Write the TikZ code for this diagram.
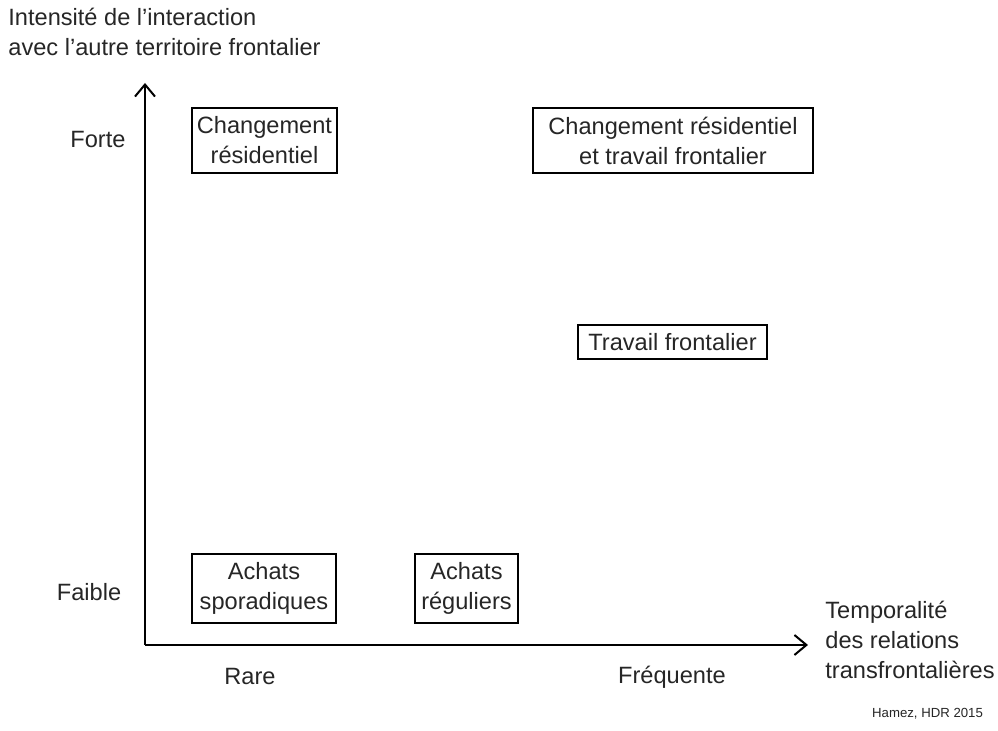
\documentclass[tikz,border=0pt]{standalone}
\usepackage{fontspec}
\setmainfont{Liberation Sans}
\usepackage{tikz}
\usetikzlibrary{arrows.meta}

\begin{document}
\begin{tikzpicture}[x=0.5pt, y=-0.5pt,
		every node/.style={font=\fontsize{11.8}{15}\selectfont, text=black!85},
		box/.style={draw, line width=0.7pt, align=center, inner sep=0pt}]
		\def\ox{145};
		\def\oy{645};
		
		\useasboundingbox (0,0) rectangle (998,731);
		
		\coordinate (origin) at (\ox,\oy);
		\coordinate (y tip) at (\ox,83);
		\coordinate (x tip) at (808,\oy);
		
		%axes
		\draw [line width=1pt, -{Straight Barb[length=6pt, width=10pt]}] (origin) -- (y tip);
		\draw [line width=1pt, -{Straight Barb[length=6pt, width=10pt]}] (origin) -- (x tip);
		
		\node [anchor=north west, align=left, inner sep=0pt] (y title) at (8,8) {Intensité de l’interaction\\avec l’autre territoire frontalier};
		\node [anchor=west, align=left, inner sep=0pt] (x title) at (825,640) {Temporalité\\des relations\\transfrontalières};
		
		\node (forte) at (98,140) {Forte};
		\node (faible) at (89,592) {Faible};
		\node (rare) at (250,677) {Rare};
		\node (frequente) at (672,677) {Fréquente};
		
		%boxes
		\node [box, minimum width=72.5pt, minimum height=32.5pt] (chres) at (264.5,140.5) {Changement\\résidentiel};
		\node [box, minimum width=140pt, minimum height=32.5pt] (chtrav) at (673,140.5) {Changement résidentiel\\et travail frontalier};
		\node [box, minimum width=94.5pt, minimum height=17pt] (trav) at (672.5,342) {Travail frontalier};
		\node [box, minimum width=72pt, minimum height=34.5pt] (achspo) at (264,588.5) {Achats\\sporadiques};
		\node [box, minimum width=51.5pt, minimum height=34.5pt] (achreg) at (466.5,588.5) {Achats\\réguliers};
		
		\node [anchor=east, font=\fontsize{6.6}{8}\selectfont] (source) at (990,714) {Hamez, HDR 2015};
	\end{tikzpicture}
\end{document}
